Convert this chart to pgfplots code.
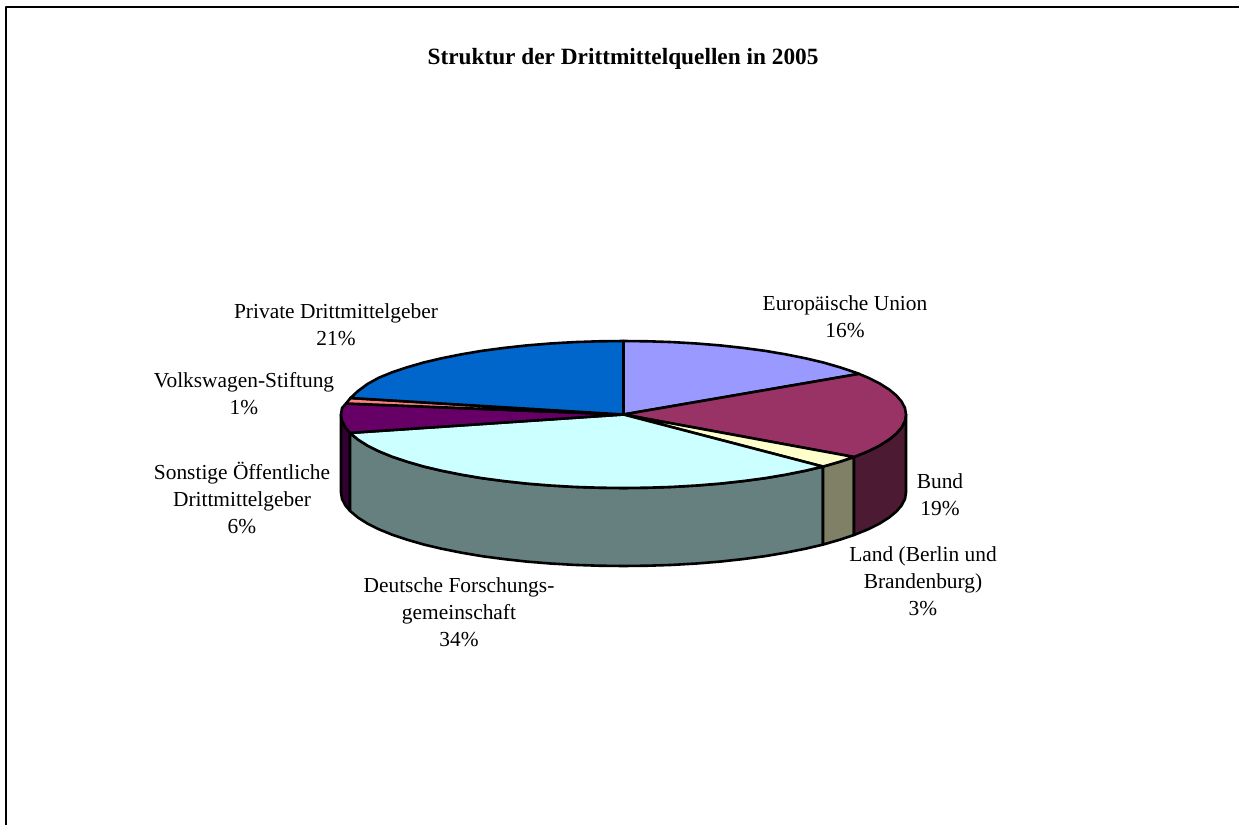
\documentclass[border=0pt]{standalone}
\usepackage{pgfplots}
\pgfplotsset{compat=1.18}
\usepackage{fontspec}
\setmainfont{Liberation Serif}
\definecolor{eu}{HTML}{9999FF}
\definecolor{bund}{HTML}{993366}
\definecolor{bundS}{HTML}{4D1A33}
\definecolor{land}{HTML}{FFFFCC}
\definecolor{landS}{HTML}{808066}
\definecolor{dfg}{HTML}{CCFFFF}
\definecolor{dfgS}{HTML}{668080}
\definecolor{sonst}{HTML}{660066}
\definecolor{sonstS}{HTML}{330033}
\definecolor{vw}{HTML}{FF8080}
\definecolor{priv}{HTML}{0066CC}
\tikzset{lab/.style={font=\fontsize{10.7}{13.6}\selectfont,align=center,anchor=center,inner sep=0pt}}
\begin{document}
\begin{tikzpicture}
\useasboundingbox (0,0) rectangle (619.5pt,412.5pt);
\begin{axis}[anchor=south west,at={(0,0)},width=619.5pt,height=412.5pt,scale only axis,
 xmin=0,xmax=1239,ymin=0,ymax=825,y dir=reverse,hide axis,clip=true,
 every axis plot/.append style={line width=1.3pt,line join=round,draw=black,no markers}]
% frame
\addplot[line width=1pt] coordinates {(6,825) (6,7) (1239,7)};
% side faces
\addplot[fill=sonstS] coordinates {(350,432.9)(345.3,427.3)(342,420.9)(341,414.5)(341,492.5)(342,498.9)(345.3,505.3)(350,510.9)} -- cycle;
\addplot[fill=dfgS] coordinates {(350,432.9)(358,439.6)(367.5,445.6)(378.8,451.25)(392.1,456.7)(407.1,461.7)(423.7,466.5)(441.9,470.8)(461.5,474.7)(482.2,478.2)(504.1,481.1)(526.9,483.6)(550.4,485.5)(574.5,486.9)(598.9,487.7)(623.5,488)(648.1,487.7)(672.5,486.9)(696.6,485.5)(720.1,483.6)(742.9,481.1)(764.8,478.2)(785.5,474.7)(805.1,470.8)(823,466.6)
 (823,544.6)(805.1,548.8)(785.5,552.7)(764.8,556.2)(742.9,559.1)(720.1,561.6)(696.6,563.5)(672.5,564.9)(648.1,565.7)(623.5,566)(598.9,565.7)(574.5,564.9)(550.4,563.5)(526.9,561.6)(504.1,559.1)(482.2,556.2)(461.5,552.7)(441.9,548.8)(423.7,544.5)(407.1,539.7)(392.1,534.7)(378.8,529.25)(367.5,523.6)(358,517.6)(350,510.9)} -- cycle;
\addplot[fill=landS] coordinates {(823,466.6)(839.9,461.7)(854,457)(854,535)(839.9,539.7)(823,544.6)} -- cycle;
\addplot[fill=bundS] coordinates {(854,457)(868.2,451.25)(879.5,445.6)(889,439.6)(896.4,433.5)(901.7,427.3)(905,420.9)(906,414.5)(906,492.5)(905,498.9)(901.7,505.3)(896.4,511.5)(889,517.6)(879.5,523.6)(868.2,529.25)(854,535)} -- cycle;
% top faces
\addplot[fill=eu] coordinates {(623.5,414.5)(623.5,341)(648.1,341.3)(672.5,342.1)(696.6,343.5)(720.1,345.4)(742.9,347.9)(764.8,350.8)(785.5,354.3)(805.1,358.2)(823.3,362.5)(839.9,367.3)(854.9,372.3)(859.1,373.9)} -- cycle;
\addplot[fill=bund] coordinates {(623.5,414.5)(859.1,373.9)(868.2,377.75)(879.5,383.4)(889,389.4)(896.4,395.5)(901.7,401.7)(905,408.1)(906,414.5)(905,420.9)(901.7,427.3)(896.4,433.5)(889,439.6)(879.5,445.6)(868.2,451.25)(854,457)} -- cycle;
\addplot[fill=land] coordinates {(623.5,414.5)(854,457)(839.9,461.7)(823,466.6)} -- cycle;
\addplot[fill=dfg] coordinates {(623.5,414.5)(823,466.6)(805.1,470.8)(785.5,474.7)(764.8,478.2)(742.9,481.1)(720.1,483.6)(696.6,485.5)(672.5,486.9)(648.1,487.7)(623.5,488)(598.9,487.7)(574.5,486.9)(550.4,485.5)(526.9,483.6)(504.1,481.1)(482.2,478.2)(461.5,474.7)(441.9,470.8)(423.7,466.5)(407.1,461.7)(392.1,456.7)(378.8,451.25)(367.5,445.6)(358,439.6)(350,432.9)} -- cycle;
\addplot[fill=sonst] coordinates {(623.5,414.5)(350,432.9)(345.3,427.3)(342,420.9)(341,414.5)(342,408.1)(346,403.5)} -- cycle;
\addplot[fill=vw] coordinates {(623.5,414.5)(346,403.5)(350.5,398)} -- cycle;
\addplot[fill=priv] coordinates {(623.5,414.5)(350.5,398)(358,391)(367.5,384)(378.8,377.75)(392.1,372.3)(407.1,367.3)(423.7,362.5)(441.9,358.2)(461.5,354.3)(482.2,350.8)(504.1,347.9)(526.9,345.4)(550.4,343.5)(574.5,342.1)(598.9,341.3)(623.5,341)} -- cycle;
% texts
\node[lab,font=\fontsize{11.65}{13.6}\selectfont\bfseries] at (axis cs:623,59) {Struktur der Drittmittelquellen in 2005};
\node[lab] at (axis cs:845,317) {Europäische Union\\16\%};
\node[lab] at (axis cs:336,325) {Private Drittmittelgeber\\21\%};
\node[lab] at (axis cs:244,394) {Volkswagen-Stiftung\\1\%};
\node[lab] at (axis cs:242,498) {Sonstige Öffentliche\\Drittmittelgeber\\6\%};
\node[lab] at (axis cs:459,612) {Deutsche Forschungs-\\gemeinschaft\\34\%};
\node[lab] at (axis cs:923,581) {Land (Berlin und\\Brandenburg)\\3\%};
\node[lab] at (axis cs:940,495) {Bund\\19\%};
\end{axis}
\end{tikzpicture}
\end{document}
